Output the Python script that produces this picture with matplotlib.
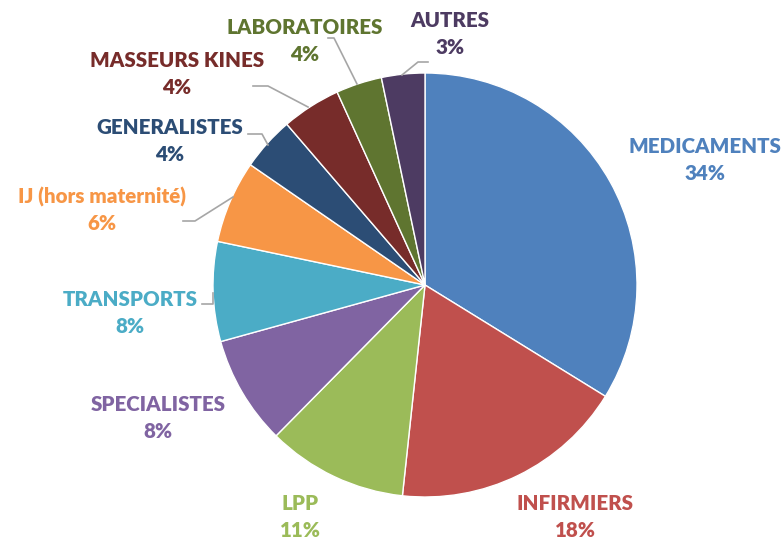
import matplotlib.pyplot as plt

labels = ['MEDICAMENTS', 'INFIRMIERS', 'LPP', 'SPECIALISTES', 'TRANSPORTS',
          'IJ (hors maternité)', 'GENERALISTES', 'MASSEURS KINES', 'LABORATOIRES', 'AUTRES']
values = [33.8, 17.9, 10.7, 8.3, 7.6, 6.3, 4.1, 4.5, 3.5, 3.3]
pct_text = ['34%', '18%', '11%', '8%', '8%', '6%', '4%', '4%', '4%', '3%']
colors = ['#4F81BD', '#C0504D', '#9BBB59', '#8064A2', '#4BACC6',
          '#F79646', '#2C4D75', '#772C2A', '#5F7530', '#4D3B62']

# label centres (image pixels, y down) and leader lines
label_pos = [(705, 160), (575, 517), (300, 517), (158, 418), (130, 313),
             (102, 210), (170, 141), (177, 74), (305, 41), (450, 34)]
leaders = {
    4: [(202, 304), (213, 304), (213, 293)],
    5: [(183, 221), (195, 221), (233, 197)],
    6: [(248, 134), (262, 134), (268, 145)],
    7: [(253, 86), (268, 86), (308, 107)],
    8: [(328, 38), (334, 38), (357, 84)],
    9: [(428, 62), (418, 62), (402, 75)],
}

W, H = 784, 541
fig = plt.figure(figsize=(W / 100, H / 100), dpi=100)
ax = fig.add_axes([0, 0, 1, 1])

ax.pie(values, colors=colors, startangle=90, counterclock=False,
       center=(425, H - 285), radius=212,
       wedgeprops=dict(edgecolor='white', linewidth=1))

ax.set_xlim(0, W)
ax.set_ylim(0, H)
ax.set_aspect('equal')
ax.axis('off')

for i, (x, y) in enumerate(label_pos):
    ax.text(x, H - y, labels[i] + '\n' + pct_text[i], color=colors[i],
            ha='center', va='center', fontsize=14.8, fontweight='heavy',
            family='Lato', linespacing=1.45)

for i, pts in leaders.items():
    ax.plot([p[0] for p in pts], [H - p[1] for p in pts], color='#A6A6A6', lw=1.2)

fig.savefig('out.png', dpi=100)
